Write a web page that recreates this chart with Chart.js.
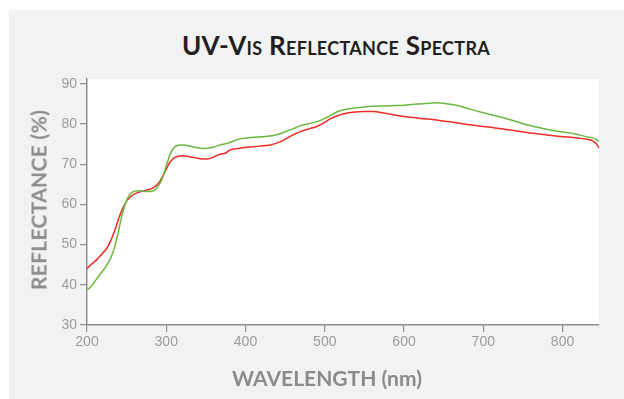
<!DOCTYPE html>
<html>
<head>
<meta charset="utf-8">
<script src="https://cdn.jsdelivr.net/npm/chart.js@4.4.1/dist/chart.umd.min.js"></script>
<style>
  html, body { margin: 0; padding: 0; background: #fff; }
  #wrap { position: relative; width: 624px; height: 399px; overflow: hidden; }
  #panel { position: absolute; left: 9px; top: 10px; right: 0; bottom: 0; background: #f1f2f3; }
  #chart { position: absolute; left: 0; top: 0; }
  .title {
    position: absolute; left: 336px; top: 29px; transform: translateX(-50%);
    font: 700 26px Lato, "Open Sans", sans-serif; font-variant: small-caps;
    color: #231f20; white-space: nowrap; letter-spacing: 0.3px;
  }
  .axis-title {
    position: absolute; font: 700 21px Lato, "Open Sans", sans-serif;
    color: #8b8b8b; white-space: nowrap;
  }
  #xtitle { left: 327px; top: 365px; transform: translateX(-50%); }
  #ytitle { left: 38px; top: 200px; transform: translate(-50%, -50%) rotate(-90deg); letter-spacing: 0.3px; }
</style>
</head>
<body>
<div id="wrap">
  <div id="panel"></div>
  <div class="title">UV-Vis Reflectance Spectra</div>
  <canvas id="chart" width="624" height="399"></canvas>
  <div class="axis-title" id="xtitle">WAVELENGTH (nm)</div>
  <div class="axis-title" id="ytitle">REFLECTANCE (%)</div>
</div>
<script>
// Wavelength samples (nm) shared by both spectra
const wavelengths = [
  200, 205, 212, 218, 225, 230, 235, 240, 245, 250, 255, 260, 265, 270, 276,
  284, 290, 295, 300, 305, 310, 315, 321, 334, 346, 352, 360, 368, 375, 380,
  393, 401, 418, 431, 440, 448, 460, 469, 480, 490, 500, 506, 515, 523, 535,
  548, 560, 578, 590, 600, 612, 620, 641, 655, 670, 683, 700, 713, 735, 755,
  775, 797, 815, 831, 839, 843, 846
];

// Reflectance (%) — red trace
const reflRed = [
  44.1, 45.0, 46.2, 47.5, 49.1, 51.0, 53.5, 56.5, 59.0, 60.8, 61.9, 62.6, 63.0, 63.3, 63.6,
  64.2, 65.2, 66.8, 68.8, 70.6, 71.6, 72.0, 72.1, 71.7, 71.3, 71.3, 71.8, 72.5, 72.8, 73.5,
  74.0, 74.2, 74.5, 74.8, 75.3, 76.0, 77.3, 78.1, 78.8, 79.4, 80.4, 81.2, 82.0, 82.5, 82.9,
  83.1, 83.1, 82.6, 82.2, 81.9, 81.6, 81.4, 81.0, 80.6, 80.2, 79.8, 79.4, 79.1, 78.5, 77.9,
  77.4, 76.9, 76.6, 76.2, 75.7, 75.0, 74.0
];

// Reflectance (%) — green trace
const reflGreen = [
  38.8, 39.5, 41.4, 43.0, 44.9, 46.7, 49.5, 53.6, 58.0, 61.0, 62.7, 63.3, 63.4, 63.3, 63.2,
  63.4, 64.6, 66.5, 69.6, 72.5, 74.2, 74.7, 74.8, 74.3, 73.9, 74.0, 74.3, 74.8, 75.1, 75.4,
  76.3, 76.5, 76.8, 77.0, 77.4, 77.9, 78.8, 79.6, 80.1, 80.6, 81.4, 82.0, 83.0, 83.5, 83.9,
  84.2, 84.4, 84.5, 84.6, 84.7, 84.9, 85.0, 85.3, 85.0, 84.5, 83.7, 82.8, 82.2, 81.0, 79.8,
  78.9, 78.1, 77.6, 76.8, 76.5, 76.1, 75.7
];

const AXIS_COLOR = '#8e8e8e';
const TICK_COLOR = '#9c9c9c';

const toPoints = vals => wavelengths.map((w, i) => ({ x: w, y: vals[i] }));

// White plot background inside the chart area
const plotBackground = {
  id: 'plotBackground',
  beforeDraw(chart) {
    const { ctx, chartArea: a } = chart;
    ctx.save();
    ctx.fillStyle = '#ffffff';
    ctx.fillRect(a.left, a.top, a.right - a.left, a.bottom - a.top);
    ctx.restore();
  }
};

const axisCommon = {
  grid:   { drawOnChartArea: false, drawTicks: true, tickLength: 7, color: AXIS_COLOR, lineWidth: 1.2 },
  border: { color: AXIS_COLOR, width: 1.5 },
};

new Chart(document.getElementById('chart').getContext('2d'), {
  type: 'line',
  data: {
    datasets: [
      {
        label: 'Green',
        data: toPoints(reflGreen),
        borderColor: '#6ab840',
        borderWidth: 1.5,
        pointRadius: 0,
        cubicInterpolationMode: 'monotone',
      },
      {
        label: 'Red',
        data: toPoints(reflRed),
        borderColor: '#ee2b24',
        borderWidth: 1.5,
        pointRadius: 0,
        cubicInterpolationMode: 'monotone',
      },
    ],
  },
  options: {
    responsive: false,
    animation: false,
    layout: { padding: { top: 79, right: 25, left: 0, bottom: 0 } },
    plugins: { legend: { display: false }, tooltip: { enabled: false } },
    scales: {
      x: {
        ...axisCommon,
        type: 'linear',
        min: 200,
        max: 846,
        afterFit: s => { s.height = 74; },
        ticks: {
          stepSize: 100, includeBounds: false, color: TICK_COLOR, padding: 2,
          maxRotation: 0,
          font: { family: 'Liberation Sans, Arial, sans-serif', size: 14 },
        },
      },
      y: {
        ...axisCommon,
        min: 30,
        max: 91.2,
        afterFit: s => { s.width = 87; },
        ticks: {
          stepSize: 10, includeBounds: false, color: TICK_COLOR, padding: 3,
          font: { family: 'Liberation Sans, Arial, sans-serif', size: 14 },
        },
      },
    },
  },
  plugins: [plotBackground],
});
</script>
</body>
</html>
